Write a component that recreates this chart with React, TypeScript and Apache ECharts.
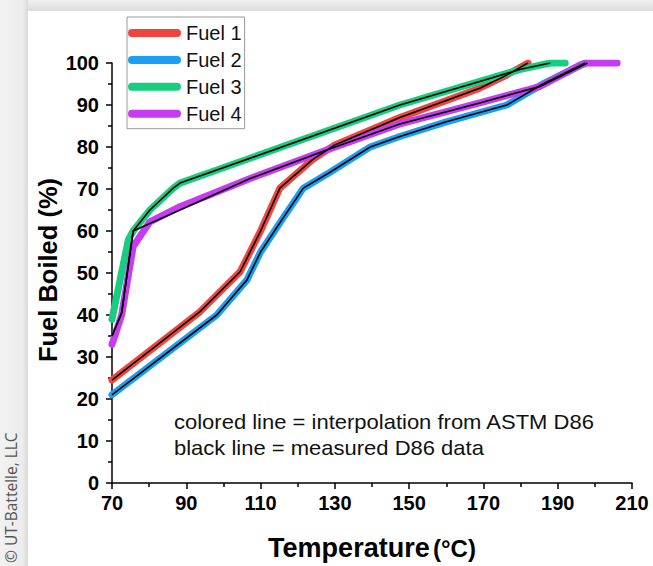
import React, { useEffect, useRef } from "react";
import * as echarts from "echarts";

// Interpolated (coloured) curves: temperature (°C) and fuel boiled (%)
const fuel1T = [70, 93.7, 104.5, 110, 115.2, 124, 130, 147.5, 169, 176, 182];
const fuel1F = [24.5, 40.8, 50.3, 60, 70.2, 77, 80.5, 87, 94, 97, 100];
const fuel2T = [70, 98.2, 106.3, 110, 116, 121.5, 128.7, 139.5, 147.5, 160, 176.3, 186, 197.4];
const fuel2F = [21, 40, 48.3, 55, 63, 70.2, 74, 80, 82.5, 86, 90, 95, 100];
const fuel3T = [70, 74.4, 75.7, 80.2, 86.5, 88.3, 147.5, 169, 180, 188, 192];
const fuel3F = [39, 57.9, 60, 65, 70.2, 71.4, 90, 95.6, 98.5, 100, 100];
const fuel4T = [70, 72.6, 75.7, 80.2, 88.3, 107.2, 127.8, 147.5, 169, 185.2, 196, 198, 206];
const fuel4F = [33, 40, 56.3, 62.2, 65.8, 72.5, 79.3, 85.5, 90.5, 94.4, 99.5, 100, 100];

// Measured D86 data (black lines)
const meas1T = [70, 93.7, 104.5, 110, 115.2, 124, 130, 147.5, 169, 176, 182];
const meas1F = [24.5, 40.8, 50.3, 60, 70.2, 77, 80.5, 87, 94, 97, 100];
const meas2T = [70, 98.2, 106.3, 110, 116, 121.5, 128.7, 139.5, 147.5, 160, 176.3, 186, 197.4];
const meas2F = [21, 40, 48.3, 55, 63, 70.2, 74, 80, 82.5, 86, 90, 95, 100];
const meas3T = [70, 72.6, 75.7, 80.2, 86.5, 88.3, 147.5, 169, 180, 188];
const meas3F = [35, 40.5, 60, 65, 70.2, 71.4, 90, 95.6, 98.5, 100];
const meas4T = [70, 72.6, 75.7, 107.2, 127.8, 147.5, 169, 185.2, 198];
const meas4F = [35, 40.5, 60, 72.5, 79.3, 85.5, 90.5, 94.4, 100];

const fuelNames = ["Fuel 1", "Fuel 2", "Fuel 3", "Fuel 4"];
const fuelColors = ["#f0453e", "#1aa0f2", "#18cc80", "#c63cf0"];
const xTicks = { min: 70, max: 210, interval: 20 };
const yTicks = { min: 0, max: 100, interval: 10 };
const xTitle = "Temperature";
const xUnit = "(°C)";
const yTitle = "Fuel Boiled (%)";
const notes = ["colored line = interpolation from ASTM D86", "black line = measured D86 data"];
const credit = "© UT-Battelle, LLC";

const zip = (t: number[], f: number[]) => t.map((v, i) => [v, f[i]]);

export default function App() {
  const ref = useRef<HTMLDivElement>(null);
  useEffect(() => {
    if (!ref.current) return;
    const chart = echarts.init(ref.current, null, { renderer: "svg" });
    const colored = [zip(fuel1T, fuel1F), zip(fuel2T, fuel2F), zip(fuel3T, fuel3F), zip(fuel4T, fuel4F)];
    const measured = [zip(meas1T, meas1F), zip(meas2T, meas2F), zip(meas3T, meas3F), zip(meas4T, meas4F)];
    const font = "'Liberation Sans', Arial, sans-serif";
    const series: any[] = [];
    colored.forEach((d, i) => {
      series.push({
        name: fuelNames[i],
        type: "line",
        data: d,
        symbol: "none",
        z: 2,
        color: fuelColors[i],
        lineStyle: { color: fuelColors[i], width: 7, cap: "round", join: "round" },
      });
    });
    measured.forEach((d, i) => {
      series.push({
        name: fuelNames[i] + " measured",
        type: "line",
        data: d,
        symbol: "none",
        z: 3,
        color: "#000",
        lineStyle: { color: "#000", width: 1.6 },
      });
    });
    chart.setOption({
      animation: false,
      backgroundColor: "#ffffff",
      grid: { left: 112, right: 21, top: 63, bottom: 83, containLabel: false },
      legend: {
        data: fuelNames,
        orient: "vertical",
        left: 127,
        top: 17,
        padding: [6, 3, 5, 1],
        itemGap: 6.9,
        itemWidth: 53,
        itemHeight: 8,
        icon: "path://M4,0 H49 A4,4 0 0 1 49,8 H4 A4,4 0 0 1 4,0 Z",
        borderColor: "#9a9a9a",
        borderWidth: 1,
        textStyle: { fontFamily: font, fontSize: 20, color: "#111", padding: [0, 0, 0, 0] },
      },
      xAxis: {
        type: "value",
        min: xTicks.min,
        max: xTicks.max,
        interval: xTicks.interval,
        name: "{a|" + xTitle + "} {b|" + xUnit + "}",
        nameLocation: "middle",
        nameGap: 51,
        nameTextStyle: {
          fontFamily: font,
          fontWeight: "bold",
          color: "#000",
          rich: {
            a: { fontFamily: font, fontSize: 27, fontWeight: "bold", color: "#000" },
            b: { fontFamily: font, fontSize: 24, fontWeight: "bold", color: "#000", padding: [1, 0, 0, 0] },
          },
        },
        axisLine: { lineStyle: { color: "#000", width: 1.5 } },
        axisTick: { length: 6, lineStyle: { color: "#000", width: 1.5 } },
        minorTick: { show: true, splitNumber: 2, length: 4, lineStyle: { color: "#000", width: 1.5 } },
        splitLine: { show: false },
        axisLabel: { fontFamily: font, fontSize: 20, fontWeight: "bold", color: "#000", margin: 10 },
      },
      yAxis: {
        type: "value",
        min: yTicks.min,
        max: yTicks.max,
        interval: yTicks.interval,
        axisLine: { lineStyle: { color: "#000", width: 1.5 } },
        axisTick: { length: 6, lineStyle: { color: "#000", width: 1.5 } },
        minorTick: { show: true, splitNumber: 2, length: 4, lineStyle: { color: "#000", width: 1.5 } },
        splitLine: { show: false },
        axisLabel: { fontFamily: font, fontSize: 20, fontWeight: "bold", color: "#000", margin: 13 },
      },
      graphic: [
        {
          type: "rect",
          z: -10,
          shape: { x: 0, y: 0, width: 653, height: 11 },
          style: {
            fill: new echarts.graphic.LinearGradient(0, 0, 0, 1, [
              { offset: 0, color: "#f0f0f0" },
              { offset: 1, color: "#dcdcdc" },
            ]),
          },
        },
        {
          type: "rect",
          z: -10,
          shape: { x: 0, y: 0, width: 28, height: 566 },
          style: {
            fill: new echarts.graphic.LinearGradient(0, 0, 1, 0, [
              { offset: 0, color: "#f2f2f2" },
              { offset: 0.8, color: "#ececec" },
              { offset: 1, color: "#dadada" },
            ]),
          },
        },
        {
          type: "text",
          x: 11,
          y: 563,
          rotation: Math.PI / 2,
          style: {
            text: credit,
            fontFamily: "'Open Sans', sans-serif",
            fontSize: 15.5,
            fill: "#555",
            align: "left",
            verticalAlign: "middle",
          },
        },
        {
          type: "text",
          x: 48,
          y: 270,
          rotation: Math.PI / 2,
          style: {
            text: yTitle,
            fontFamily: font,
            fontSize: 25.5,
            fontWeight: "bold",
            fill: "#000",
            align: "center",
            verticalAlign: "middle",
          },
        },
        {
          type: "text",
          x: 174,
          y: 422,
          scaleX: 1.1,
          style: { text: notes[0], fontFamily: font, fontSize: 20, fill: "#111", align: "left", verticalAlign: "middle" },
        },
        {
          type: "text",
          x: 174,
          y: 448,
          scaleX: 1.1,
          style: { text: notes[1], fontFamily: font, fontSize: 20, fill: "#111", align: "left", verticalAlign: "middle" },
        },
      ],
      series,
    });
    return () => chart.dispose();
  }, []);
  return (
    <div
      ref={ref}
      style={{ position: "absolute", left: 0, top: 0, width: 653, height: 566 }}
    />
  );
}
